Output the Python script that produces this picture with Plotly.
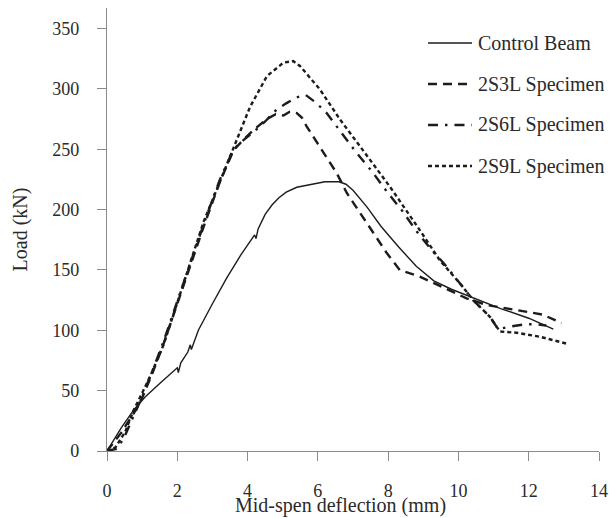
import plotly.graph_objects as go

# ---- data ----
control_x = [0, 0.2, 0.4, 0.76, 1.09, 1.5, 1.9, 2.0, 2.03, 2.1, 2.3, 2.37, 2.4, 2.6, 3.0, 3.4, 3.8, 4.2, 4.24, 4.3, 4.5, 4.7, 4.9, 5.1, 5.4, 5.8, 6.2, 6.6, 6.8, 7.0, 7.4, 7.8, 8.3, 8.8, 9.3, 9.8, 10.4, 11.2, 12.0, 12.7]
control_y = [0, 9, 19, 34, 45, 56, 66, 69, 65, 73, 82, 88, 84, 100, 122, 143, 162, 179, 176, 184, 196, 204, 210, 214.5, 218.5, 221, 223, 223, 221, 216, 202, 186, 169, 153, 141, 134, 127, 118, 110, 101]

s3l_x = [0, 0.4, 0.8, 1.0, 1.3, 1.6, 2.0, 2.4, 2.8, 3.2, 3.6, 3.85, 4.17, 4.55, 4.8, 5.02, 5.2, 5.4, 5.55, 5.68, 6.16, 6.54, 6.82, 7.39, 7.96, 8.33, 8.9, 9.38, 10.23, 10.8, 11.65, 12.4, 12.93]
s3l_y = [0, 15, 33, 44, 65, 88, 122, 156, 190, 222, 249, 257, 266, 275, 279, 278, 281, 280, 276, 269, 247, 230, 214, 189, 164, 150, 144.5, 138, 126.5, 121, 117, 113, 106]

s6l_x = [0, 0.3, 0.5, 0.8, 1.0, 1.3, 1.6, 2.0, 2.4, 2.8, 3.2, 3.6, 3.9, 4.2, 4.5, 4.83, 5.1, 5.4, 5.65, 5.95, 6.25, 6.63, 7.1, 7.53, 7.96, 8.4, 8.81, 9.28, 9.57, 10.04, 10.42, 10.9, 11.13, 11.46, 11.89, 12.22, 12.5]
s6l_y = [0, 2, 12, 32, 45, 67, 90, 124, 158, 192, 224, 250, 258, 265, 273, 283, 288, 293, 295, 288.5, 280, 265, 247, 232, 215, 199, 182, 165, 156, 139, 125, 111, 101, 103, 105, 105, 104]

s9l_x = [0, 0.24, 0.52, 0.76, 1.0, 1.23, 1.61, 1.99, 2.37, 2.75, 3.17, 3.55, 4.07, 4.55, 5.02, 5.3, 5.49, 6.06, 6.63, 7.2, 8.05, 8.9, 9.47, 10.04, 10.42, 10.9, 11.18, 11.65, 12.31, 13.07]
s9l_y = [0, 3, 16, 34, 48, 62, 88, 122, 157, 190, 220, 248, 285, 310.6, 321.7, 323, 319, 299.5, 274.6, 252.4, 219, 183, 158, 139, 125, 111, 99, 98, 94.7, 89]

names = ["Control Beam", "2S3L Specimen", "2S6L Specimen", "2S9L Specimen"]
x_ticks = [0, 2, 4, 6, 8, 10, 12, 14]
y_ticks = [0, 50, 100, 150, 200, 250, 300, 350]

FONT = "Liberation Serif, Times New Roman, serif"
INK = "#1c1c1c"
TXT = "#2a2a2a"

styles = [
    dict(color=INK, width=1.4, dash="solid"),
    dict(color=INK, width=2.4, dash="9px,6px"),
    dict(color=INK, width=2.4, dash="10px,7px,2.5px,7px"),
    dict(color=INK, width=2.4, dash="4px,3px"),
]
data = [(control_x, control_y), (s3l_x, s3l_y), (s6l_x, s6l_y), (s9l_x, s9l_y)]

fig = go.Figure()
for i, (xs, ys) in enumerate(data):
    fig.add_trace(go.Scatter(x=xs, y=ys, mode="lines", name=names[i],
                             line=styles[i], showlegend=False))

# hand-drawn legend (line sample + text), placed in paper coordinates
leg_x0, leg_x1, leg_tx = 0.6524, 0.7419, 0.750
leg_ys = [0.921, 0.8284, 0.7359, 0.6433]
for i, name in enumerate(names):
    fig.add_shape(type="line", xref="paper", yref="paper",
                  x0=leg_x0, x1=leg_x1, y0=leg_ys[i], y1=leg_ys[i], line=styles[i])
    fig.add_annotation(text=name, xref="paper", yref="paper", x=leg_tx, y=leg_ys[i],
                       xanchor="left", yanchor="middle", showarrow=False,
                       font=dict(family=FONT, size=20, color=TXT))

axis_common = dict(
    showgrid=False, zeroline=False, showline=True, linecolor="#8a8a8a", linewidth=1.3,
    ticks="outside", ticklen=9, tickwidth=1.3, tickcolor="#8a8a8a",
    tickfont=dict(family=FONT, size=18, color=TXT),
)

fig.update_layout(
    width=609, height=518,
    margin=dict(l=107, r=10, t=8, b=67, autoexpand=False),
    paper_bgcolor="white", plot_bgcolor="white",
    font=dict(family=FONT, color=TXT),
    xaxis=dict(range=[0, 14], tickvals=x_ticks, ticklabelstandoff=14, **axis_common),
    yaxis=dict(range=[0, 367], tickvals=y_ticks, ticklabelstandoff=14,
               title=dict(text="Load (kN)", font=dict(family=FONT, size=20, color=TXT), standoff=19),
               **axis_common),
    showlegend=False,
)

fig.add_annotation(text="Mid-spen deflection (mm)", xref="paper", yref="paper",
                   x=0.474, y=-0.123, showarrow=False, xanchor="center", yanchor="middle",
                   font=dict(family=FONT, size=20, color=TXT))

fig.write_html(
    "out.html",
    config={"displayModeBar": False},
    post_script="document.body.style.margin='0';document.body.style.overflow='hidden';"
                "document.documentElement.style.overflow='hidden';",
)
